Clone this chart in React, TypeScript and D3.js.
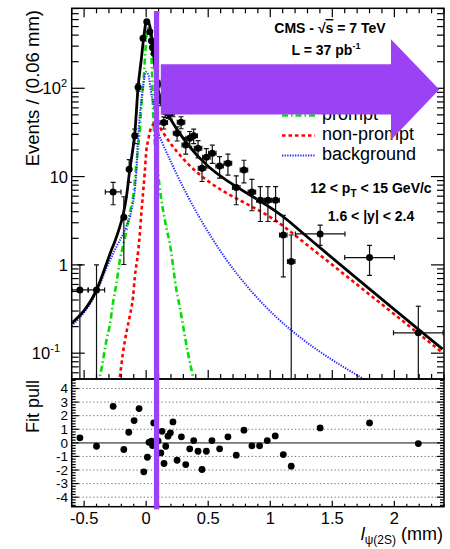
import React from "react";
import * as d3 from "d3";

// data points (upper panel): position, value, errors
const dataX = [-0.534, -0.4, -0.266, -0.18, -0.137, -0.092, -0.065, -0.025, 0.005, 0.029, 0.043, 0.051, 0.064, 0.096, 0.118, 0.128, 0.142, 0.158, 0.176, 0.195, 0.216, 0.249, 0.281, 0.319, 0.351, 0.383, 0.418, 0.45, 0.485, 0.533, 0.592, 0.659, 0.726, 0.788, 0.852, 0.92, 0.981, 1.043, 1.105, 1.169, 1.402, 1.8, 2.193];
const dataY = [0.52, 0.52, 6.7, 3.46, 12.1, 29, 102.6, 368, 568, 437, 345, 290, 250, 112, 72, 77, 41, 54, 53, 52, 55, 30.9, 41.2, 22.8, 27.2, 29, 20.9, 12.4, 16.6, 18.4, 13.2, 14.2, 7.5, 11.9, 6.7, 5.4, 5.4, 5.4, 2.18, 1.09, 2.24, 1.21, 0.17];
const dataYErr = [0.48, 0.48, 1.9, 2.45, 3.5, 5.4, 10, 19, 24, 21, 19, 17, 16, 10.6, 8.5, 8.8, 6.4, 7.3, 7.3, 7.2, 7.4, 5.6, 6.4, 4.8, 5.2, 5.4, 4.6, 3.6, 4.1, 4.3, 3.6, 3.8, 2.7, 3.4, 2.6, 2.3, 2.3, 2.3, 1.45, 1.09, 0.58, 0.45, 0.17];
const dataXErr = [0.065, 0.065, 0.063, 0.01, 0.01, 0.01, 0.01, 0.01, 0.01, 0.01, 0.01, 0.01, 0.01, 0.01, 0.01, 0.01, 0.03, 0.03, 0.03, 0.03, 0.03, 0.03, 0.03, 0.03, 0.03, 0.03, 0.03, 0.03, 0.03, 0.03, 0.03, 0.03, 0.03, 0.03, 0.03, 0.03, 0.03, 0.03, 0.03, 0.03, 0.2, 0.2, 0.2];

// total fit
const fitX = [-0.601, -0.4, -0.279, -0.253, -0.212, -0.186, -0.158, -0.132, -0.105, -0.092, -0.065, -0.038, -0.019, 0.005, 0.025, 0.051, 0.077, 0.109, 0.176, 1.155, 2.389];
const fitY = [0.218, 0.52, 1.48, 1.83, 2.71, 3.67, 6.03, 11.9, 21.6, 30.3, 103, 220, 384, 586, 535, 324, 142, 79.6, 49.9, 3.08, 0.111];

// prompt component
const promptX = [-0.389, -0.373, -0.319, -0.293, -0.266, -0.239, -0.212, -0.186, -0.158, -0.132, -0.105, -0.078, -0.051, -0.035, -0.019, -0.003, 0.009, 0.017, 0.029, 0.041, 0.049, 0.057, 0.109, 0.163, 0.19, 0.244, 0.27, 0.337, 0.377, 0.399];
const promptY = [0.044, 0.0542, 0.141, 0.208, 0.38, 0.619, 1.13, 1.64, 2.48, 3.87, 5.92, 14.2, 33.7, 73.8, 135, 309, 457, 482, 434, 272, 124, 49.9, 7.69, 2.62, 1.77, 0.52, 0.337, 0.0998, 0.0542, 0.038];

// non-prompt component
const nonPromptX = [-0.228, -0.212, -0.186, -0.158, -0.132, -0.105, -0.092, -0.065, -0.051, -0.038, -0.025, -0.011, 0.002, 0.017, 0.029, 0.045, 0.061, 0.085, 0.104, 0.123, 1.129, 2.389];
const nonPromptY = [0.0385, 0.0542, 0.103, 0.174, 0.264, 0.444, 0.711, 1.4, 2.24, 3.97, 6.52, 11.3, 20.0, 26.0, 32.0, 36.5, 39.9, 41.5, 38.4, 33.7, 2.59, 0.101];

// background component
const bkgX = [-0.601, -0.4, -0.319, -0.239, -0.158, -0.118, -0.078, -0.065, -0.038, -0.023, -0.003, 0.017, 0.043, 0.061, 0.109, 1.799];
const bkgY = [0.203, 0.493, 0.923, 1.61, 2.76, 4.19, 11.9, 27.4, 73.8, 109, 153, 142, 84, 64.7, 28.3, 0.0467];

// fit pull
const pullX = [-0.534, -0.4, -0.266, -0.18, -0.14, -0.097, -0.057, -0.019, 0.01, 0.023, 0.043, 0.051, 0.061, 0.096, 0.118, 0.128, 0.144, 0.158, 0.176, 0.195, 0.216, 0.249, 0.284, 0.319, 0.351, 0.383, 0.418, 0.45, 0.485, 0.53, 0.592, 0.659, 0.726, 0.788, 0.852, 0.914, 0.976, 1.04, 1.105, 1.169, 1.402, 1.8, 2.193];
const pullY = [0.37, -0.25, 2.69, -0.49, 0.78, 1.64, 2.52, -2.13, -1.06, 0.04, 0.12, -0.2, 1.47, 0.15, -0.74, 0.85, -1.52, -0.25, 0.49, 0.74, 1.54, -1.28, 0.44, -1.6, -0.44, 0.17, -0.62, -1.96, -0.62, 0.17, -0.44, 0.44, -0.91, 0.93, -0.22, -0.22, 0.17, 0.51, -0.86, -1.72, 1.1, 1.47, -0.05];

const xTicks = [-0.5, 0, 0.5, 1, 1.5, 2];
const xTickLabels = ["-0.5", "0", "0.5", "1", "1.5", "2"];
const yDecades = [0.1, 1, 10, 100];
const pullTicks = [4, 3, 2, 1, 0, -1, -2, -3, -4];

const W = 450, H = 549;
const L = 71.7, R = 444, T = 8.3, MID = 379, B = 506.7;
const FONT = "'Liberation Sans', Arial, Helvetica, sans-serif";
const PURPLE = "#9b42f5";

const x = d3.scaleLinear().domain([-0.6, 2.4]).range([L, R]);
const y = d3.scaleLog().domain([0.051, 805]).range([MID, T]);
const yp = d3.scaleLinear().domain([-4.7, 4.7]).range([B, MID]);

const zip = (a: number[], b: number[]) => a.map((v, i) => [v, b[i]] as [number, number]);
const line = d3.line<[number, number]>()
  .x(d => x(d[0]))
  .y(d => y(d[1]))
  .curve(d3.curveMonotoneX);

const App = () => {
  const xMinor = d3.range(-6, 25).map(i => i / 10).filter(v => Math.abs(v * 2 - Math.round(v * 2)) > 1e-6);
  const yMinor: number[] = [];
  [0.01, 0.1, 1, 10, 100].forEach(d => {
    for (let k = 2; k <= 9; k++) {
      const v = d * k;
      if (v > 0.051 && v < 805) yMinor.push(v);
    }
  });
  const pullMinor = d3.range(-23, 24).map(i => i / 5).filter(v => Math.abs(v - Math.round(v)) > 1e-6);

  const curves = [
    { xs: promptX, ys: promptY, color: "#00e000", dash: "6,3,1.5,3", w: 2.6 },
    { xs: nonPromptX, ys: nonPromptY, color: "#ff0000", dash: "3.5,3", w: 2.6 },
    { xs: bkgX, ys: bkgY, color: "#2424ff", dash: "1.3,1.3", w: 2 },
  ];

  const legend = [
    { label: "prompt", color: "#00e000", dash: "6,3,1.5,3", w: 2.6 },
    { label: "non-prompt", color: "#ff0000", dash: "3.5,3", w: 2.6 },
    { label: "background", color: "#2424ff", dash: "1.3,1.3", w: 2 },
  ];

  // annotation arrow in data coordinates
  const ar = { x0: 0.118, xHead: 1.973, xTip: 2.362, top: 187, bot: 50.5, headTop: 359, headBot: 26, tip: 97 };
  const arrowPts = [
    [x(ar.x0), y(ar.top)], [x(ar.xHead), y(ar.top)], [x(ar.xHead), y(ar.headTop)],
    [x(ar.xTip), y(ar.tip)], [x(ar.xHead), y(ar.headBot)], [x(ar.xHead), y(ar.bot)], [x(ar.x0), y(ar.bot)],
  ].map(p => p.join(",")).join(" ");

  return (
    <svg width={W} height={H} style={{ position: "absolute", left: 0, top: 0, background: "#fff" }} fontFamily={FONT}>
      <defs>
        <clipPath id="upper"><rect x={L} y={T} width={R - L} height={MID - T} /></clipPath>
      </defs>
      <rect x={0} y={0} width={W} height={H} fill="#fff" />

      {/* pull grid */}
      {pullTicks.filter(t => t !== 0).map(t => (
        <line key={t} x1={L} x2={R} y1={yp(t)} y2={yp(t)} stroke="#666" strokeWidth={1} strokeDasharray="1.2,2.4" />
      ))}
      <line x1={L} x2={R} y1={yp(0)} y2={yp(0)} stroke="#777" strokeWidth={1.8} />

      {/* component curves */}
      <g clipPath="url(#upper)">
        {curves.map((c, i) => (
          <path key={i} d={line(zip(c.xs, c.ys)) || ""} fill="none" stroke={c.color} strokeWidth={c.w} strokeDasharray={c.dash} />
        ))}
        <path d={line(zip(fitX, fitY)) || ""} fill="none" stroke="#000" strokeWidth={2.8} />
      </g>

      {/* data */}
      <g clipPath="url(#upper)" stroke="#111" strokeWidth={1.2}>
        {dataX.map((dx, i) => {
          const cx = x(dx), cy = y(dataY[i]);
          const lo = dataY[i] - dataYErr[i];
          const yLo = lo > 0 ? y(lo) : MID + 5;
          const yHi = y(dataY[i] + dataYErr[i]);
          const x0 = x(dx - dataXErr[i]), x1 = x(dx + dataXErr[i]);
          return (
            <g key={i}>
              <line x1={cx} x2={cx} y1={yLo} y2={yHi} />
              <line x1={cx - 2.5} x2={cx + 2.5} y1={yHi} y2={yHi} />
              {lo > 0 && <line x1={cx - 2.5} x2={cx + 2.5} y1={yLo} y2={yLo} />}
              <line x1={x0} x2={x1} y1={cy} y2={cy} />
              <line x1={x0} x2={x0} y1={cy - 2.5} y2={cy + 2.5} />
              <line x1={x1} x2={x1} y1={cy - 2.5} y2={cy + 2.5} />
              <circle cx={cx} cy={cy} r={3.5} fill="#000" stroke="none" />
            </g>
          );
        })}
      </g>

      {/* pull points */}
      {pullX.map((px, i) => (
        <circle key={i} cx={x(px)} cy={yp(pullY[i])} r={3.4} fill="#000" />
      ))}

      {/* frames */}
      <rect x={L} y={T} width={R - L} height={MID - T} fill="none" stroke="#000" strokeWidth={1.5} />
      <rect x={L} y={MID} width={R - L} height={B - MID} fill="none" stroke="#000" strokeWidth={1.5} />

      {/* ticks */}
      <g stroke="#000" strokeWidth={1.2}>
        {xTicks.map(t => (
          <g key={t}>
            <line x1={x(t)} x2={x(t)} y1={T} y2={T + 9} />
            <line x1={x(t)} x2={x(t)} y1={MID} y2={MID - 9} />
            <line x1={x(t)} x2={x(t)} y1={B} y2={B - 6} />
          </g>
        ))}
        {xMinor.map(t => (
          <g key={t}>
            <line x1={x(t)} x2={x(t)} y1={T} y2={T + 5} />
            <line x1={x(t)} x2={x(t)} y1={MID} y2={MID - 5} />
            <line x1={x(t)} x2={x(t)} y1={B} y2={B - 3} />
          </g>
        ))}
        {yDecades.map(t => (
          <g key={t}>
            <line x1={L} x2={L + 13} y1={y(t)} y2={y(t)} />
            <line x1={R} x2={R - 13} y1={y(t)} y2={y(t)} />
          </g>
        ))}
        {yMinor.map(t => (
          <g key={t}>
            <line x1={L} x2={L + 7} y1={y(t)} y2={y(t)} />
            <line x1={R} x2={R - 7} y1={y(t)} y2={y(t)} />
          </g>
        ))}
        {pullTicks.map(t => (
          <g key={t}>
            <line x1={L} x2={L + 7} y1={yp(t)} y2={yp(t)} />
            <line x1={R} x2={R - 7} y1={yp(t)} y2={yp(t)} />
          </g>
        ))}
        {pullMinor.map(t => (
          <g key={t}>
            <line x1={L} x2={L + 4} y1={yp(t)} y2={yp(t)} />
            <line x1={R} x2={R - 4} y1={yp(t)} y2={yp(t)} />
          </g>
        ))}
      </g>

      {/* tick labels */}
      {xTicks.map((t, i) => (
        <text key={t} x={x(t)} y={524} textAnchor="middle" fontSize={16.5}>{xTickLabels[i]}</text>
      ))}
      {yDecades.map(t => {
        const e = Math.round(Math.log10(t));
        if (e === 0) return <text key={t} x={68} y={y(t) + 6} textAnchor="end" fontSize={16.5}>1</text>;
        if (e === 1) return <text key={t} x={68} y={y(t) + 6} textAnchor="end" fontSize={16.5}>10</text>;
        return (
          <text key={t} x={e < 0 ? 60 : 67} y={y(t) + 6} textAnchor="end" fontSize={16.5}>
            10<tspan dy={-7} fontSize={11}>{e}</tspan>
          </text>
        );
      })}
      {pullTicks.map(t => (
        <text key={t} x={68} y={yp(t) + 4.8} textAnchor="end" fontSize={13.5}>{t}</text>
      ))}

      {/* axis titles */}
      <text transform="translate(39,10) rotate(-90)" textAnchor="end" fontSize={18.5}>Events / (0.06 mm)</text>
      <text transform="translate(39,380) rotate(-90)" textAnchor="end" fontSize={18}>Fit pull</text>
      <text x={443} y={540} textAnchor="end" fontSize={18}>
        <tspan fontStyle="italic">l</tspan>
        <tspan dy={4} fontSize={12}>ψ(2S)</tspan>
        <tspan dy={-4}> (mm)</tspan>
      </text>

      {/* labels */}
      <g fontWeight="bold" fontSize={14} textAnchor="middle">
        <text x={330} y={33}>CMS - √<tspan style={{ textDecoration: "overline" }}>s</tspan> = 7 TeV</text>
        <text x={326} y={55}>L = 37 pb<tspan dy={-6} fontSize={9}>-1</tspan></text>
        <text x={371} y={193}>12 &lt; p<tspan dy={4} fontSize={10}>T</tspan><tspan dy={-4}> &lt; 15 GeV/c</tspan></text>
        <text x={371} y={220.5}>1.6 &lt; |y| &lt; 2.4</text>
      </g>

      {/* legend */}
      {legend.map((d, i) => {
        const by = 119.5 + i * 20;
        return (
          <g key={d.label}>
            <line x1={282} x2={315} y1={by - 4} y2={by - 4} stroke={d.color} strokeWidth={d.w} strokeDasharray={d.dash} />
            <text x={322} y={by} fontSize={18}>{d.label}</text>
          </g>
        );
      })}

      {/* annotations */}
      <rect x={x(0.0625)} y={T + 2.7} width={x(0.105) - x(0.0625)} height={B + 2.6 - T - 2.7} fill={PURPLE} />
      <polygon points={arrowPts} fill={PURPLE} />
    </svg>
  );
};

export default App;
